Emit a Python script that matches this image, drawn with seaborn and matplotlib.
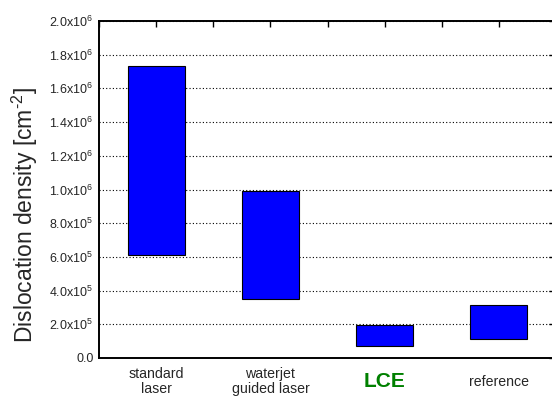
import numpy as np
import pandas as pd
import matplotlib
matplotlib.use("Agg")
import matplotlib.pyplot as plt
import seaborn as sns
from matplotlib.ticker import MultipleLocator, FuncFormatter

# Range of dislocation density per process (low / high ends of each bar)
methods = ["standard\nlaser", "waterjet\nguided laser", "LCE", "reference"]
density_low = [6.1e5, 3.5e5, 0.7e5, 1.1e5]
density_high = [1.73e6, 0.99e6, 1.96e5, 3.15e5]

df = pd.DataFrame({"method": methods, "low": density_low, "high": density_high})
df["span"] = df["high"] - df["low"]

sns.set_style("white")
plt.rcParams["font.family"] = ["Liberation Sans", "DejaVu Sans"]
plt.rcParams["mathtext.fontset"] = "custom"
plt.rcParams["mathtext.rm"] = "Liberation Sans"
plt.rcParams["mathtext.it"] = "Liberation Sans:italic"
plt.rcParams["mathtext.bf"] = "Liberation Sans:bold"

fig = plt.figure(figsize=(5.52, 3.97), dpi=100)
ax = fig.add_axes([99 / 552, 39 / 397, 457 / 552, 337 / 397])

sns.barplot(data=df, x="method", y="span", order=methods, bottom=df["low"].values,
            color="#0000ff", saturation=1, width=0.5, edgecolor="black",
            linewidth=0.8, ax=ax, zorder=3)

ax.set_ylim(0, 2.0e6)
ax.set_xlim(-0.5, 3.5)

# y axis: major every 2e5, minor every 1e5
ax.yaxis.set_major_locator(MultipleLocator(2e5))
ax.yaxis.set_minor_locator(MultipleLocator(1e5))


def sci_fmt(v, pos):
    if abs(v) < 1:
        return "0.0"
    if v < 0:
        return ""
    e = int(np.floor(np.log10(v)))
    m = v / 10 ** e
    return f"{m:.1f}x10$^{{{e}}}$"


ax.yaxis.set_major_formatter(FuncFormatter(sci_fmt))
ax.xaxis.set_minor_locator(MultipleLocator(0.5))

ax.grid(axis="y", which="major", linestyle=(0, (1, 2)), color="black", linewidth=0.8, zorder=0)
ax.set_axisbelow(True)

ax.tick_params(axis="both", which="both", direction="in", top=True, right=True,
               color="black", width=1.0)
ax.tick_params(axis="y", which="major", length=5, labelsize=9, pad=4)
ax.tick_params(axis="y", which="minor", length=3)
ax.tick_params(axis="x", which="major", length=4, labelsize=10.2, pad=17)
ax.tick_params(axis="x", which="minor", length=4)

for spine in ax.spines.values():
    spine.set_linewidth(1.4)
    spine.set_color("black")

for lbl in ax.get_xticklabels():
    lbl.set_verticalalignment("center")
    lbl.set_linespacing(1.1)
    if lbl.get_text() == "LCE":
        lbl.set_color("#008000")
        lbl.set_fontweight("bold")
        lbl.set_fontsize(15)

ax.set_xlabel("")
ax.set_ylabel("Dislocation density [cm$^{\u2010 2}$]", fontsize=16.5)
ax.yaxis.set_label_coords(-0.129, 0.423)

fig.savefig("out.png", dpi=100)
